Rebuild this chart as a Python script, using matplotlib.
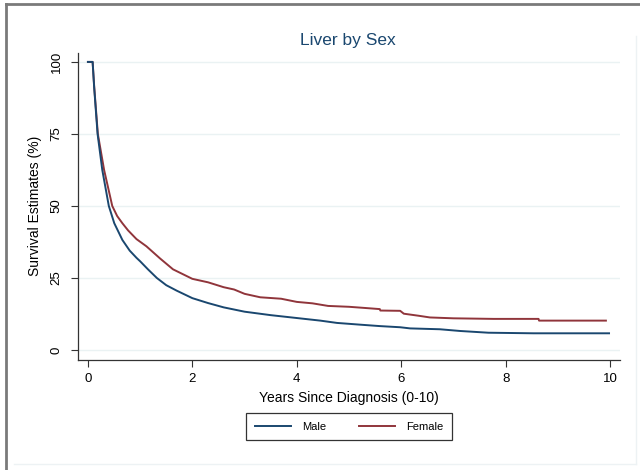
import matplotlib
matplotlib.use("Agg")
import matplotlib.pyplot as plt
from matplotlib.lines import Line2D

plt.rcParams['font.family'] = ['Liberation Sans', 'DejaVu Sans']

# Kaplan-Meier estimates (years, survival %)
male_t = [0.00, 0.09, 0.12, 0.185, 0.275, 0.40, 0.505, 0.66, 0.80, 0.93, 1.00,
          1.15, 1.32, 1.50, 1.70, 2.00, 2.30, 2.60, 3.00, 3.50, 4.00, 4.45, 4.77, 5.21, 5.59,
          5.98, 6.17, 6.74, 7.13, 7.67, 8.53, 9.98]
male_s = [100, 100, 91, 75, 62.5, 50, 44, 38.2, 34.5, 32.0, 30.8,
          28.0, 25.0, 22.5, 20.6, 18.0, 16.3, 14.8, 13.3, 12.1, 11.1, 10.2, 9.4, 8.8, 8.3,
          7.9, 7.5, 7.2, 6.6, 6.0, 5.8, 5.8]

female_t = [0.00, 0.09, 0.12, 0.19, 0.31, 0.466, 0.56, 0.66, 0.77, 0.93, 1.12, 1.38,
            1.63, 2.00, 2.30, 2.60, 2.80, 3.00, 3.30, 3.70, 4.00, 4.30, 4.60, 5.00, 5.30,
            5.59, 5.60, 5.98, 6.05, 6.33, 6.55, 7.00, 7.77, 8.63, 8.64, 9.92]
female_s = [100, 100, 91.5, 75, 62.5, 50, 46.5, 44, 41.5, 38.5, 36.0, 31.8,
            28.0, 24.7, 23.5, 21.8, 21.0, 19.5, 18.3, 17.8, 16.7, 16.2, 15.3, 15.0, 14.6,
            14.2, 13.7, 13.6, 12.6, 11.9, 11.3, 11.0, 10.8, 10.8, 10.2, 10.2]

x_ticks = [0, 2, 4, 6, 8, 10]
y_ticks = [0, 25, 50, 75, 100]
series_names = ["Male", "Female"]

navy = "#1a476f"
maroon = "#90353b"
grid_c = "#eaf2f3"

fig = plt.figure(figsize=(6.4, 4.7), dpi=100)
fig.patch.set_facecolor("white")

# outer frame of the graph
fig.add_artist(Line2D([6/640, 6/640], [0, 1 - 4/470], transform=fig.transFigure, color="#7a7a7a", lw=2))
fig.add_artist(Line2D([6/640, 1], [1 - 4/470, 1 - 4/470], transform=fig.transFigure, color="#7a7a7a", lw=2))
fig.add_artist(Line2D([636/640, 636/640], [1 - 36/470, 6/470], transform=fig.transFigure, color="#edf2f4", lw=1))
fig.add_artist(Line2D([14/640, 636/640], [6/470, 6/470], transform=fig.transFigure, color="#edf2f4", lw=1))

ax = fig.add_axes([78/640, 1 - 360/470, (620 - 78)/640, (360 - 52.7)/470])
ax.set_facecolor("white")

for yv in y_ticks:
    ax.axhline(yv, color=grid_c, lw=1.0, zorder=0)

l_male, = ax.plot(male_t, male_s, color=navy, lw=1.4, zorder=3)
l_female, = ax.plot(female_t, female_s, color=maroon, lw=1.4, zorder=2)

ax.set_xlim(-0.19, 10.19)
ax.set_ylim(-3.47, 103.2)
ax.set_xticks(x_ticks)
ax.set_yticks(y_ticks)
ax.set_yticklabels([str(v) for v in y_ticks], rotation=90, va="center")
ax.tick_params(axis="both", direction="out", length=5, width=0.8, colors="#333333",
               labelsize=9.5, labelcolor="black", pad=4)
ax.tick_params(axis="y", pad=6)
for s in ["top", "right"]:
    ax.spines[s].set_visible(False)
for s in ["left", "bottom"]:
    ax.spines[s].set_color("#333333")
    ax.spines[s].set_linewidth(0.9)

ax.set_xlabel("Years Since Diagnosis (0-10)", fontsize=10, labelpad=5)
ax.set_ylabel("Survival Estimates (%)", fontsize=10, labelpad=6)
fig.text(348/640, 1 - 40/470, "Liver by Sex", ha="center", va="center", fontsize=12.5, color=navy)

leg = fig.legend(handles=[l_male, l_female], labels=series_names, loc="center",
                 bbox_to_anchor=(349/640, 1 - 426.5/470), ncol=2, fontsize=8,
                 frameon=True, fancybox=False, handlelength=3.2, columnspacing=3.0,
                 handletextpad=1.0, borderpad=0.8, borderaxespad=0)
leg.get_frame().set_edgecolor("black")
leg.get_frame().set_linewidth(0.9)

fig.savefig("out.png", dpi=100, facecolor="white")
